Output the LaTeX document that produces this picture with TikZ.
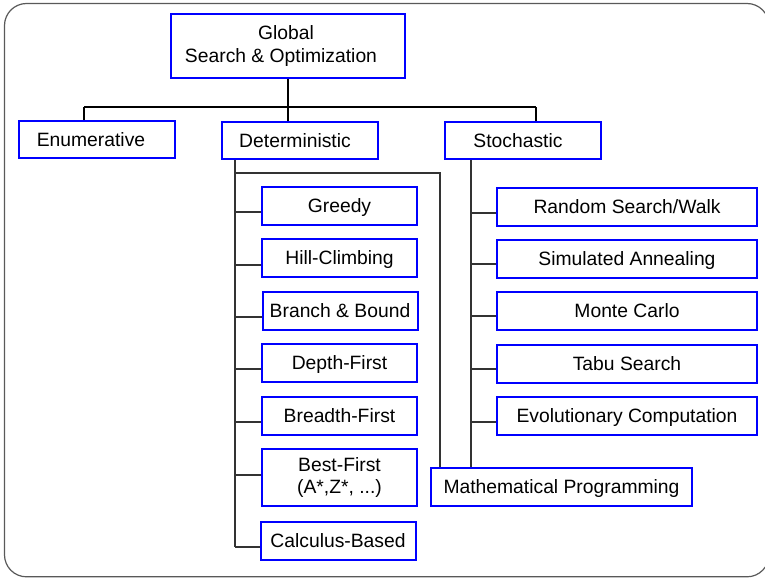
\documentclass[tikz,border=0pt]{standalone}
\usepackage{fontspec}
\setmainfont{Liberation Sans}
\begin{document}
\begin{tikzpicture}[x=1pt,y=-1pt,
  font=\fontsize{19.3}{23}\selectfont,
  box/.style={draw=blue, line width=2pt, inner sep=0pt, align=center, fill=white},
  oneline/.style={text height=17pt, text depth=3.2pt},
  topbox/.style={box, oneline, minimum width=156pt, minimum height=37pt},
  detbox/.style={box, oneline, minimum width=155pt, minimum height=38pt},
  stobox/.style={box, oneline, minimum width=260pt, minimum height=38pt},
  bus/.style={line width=2pt, black},
  link/.style={line width=1.1pt, black!80},
  frame/.style={line width=1.2pt, black!65, rounded corners=22pt}]
\useasboundingbox (0,0) rectangle (765,578);
\draw[frame] (4.5,3.5) rectangle (769,576.8);

% root and first level
\node[box, minimum width=234pt, minimum height=64pt] (global) at (288,46)
  {Global\hspace*{4pt}\\Search \& Optimization\hspace*{14pt}};
\node[topbox] (enum) at (97,139.5) {Enumerative\hspace*{12pt}};
\node[topbox] (det)  at (300,140.5) {Deterministic\hspace*{10pt}};
\node[topbox] (sto)  at (523,140.5) {Stochastic\hspace*{10pt}};

% deterministic methods
\node[detbox] (greedy)  at (339.5,206)   {Greedy};
\node[detbox] (hill)    at (339.5,258)   {Hill-Climbing};
\node[detbox] (bb)      at (340,311)     {Branch \& Bound};
\node[detbox] (depth)   at (339.5,363)   {Depth-First};
\node[detbox] (breadth) at (339.5,415.5) {Breadth-First};
\node[box, minimum width=155pt, minimum height=57pt, font=\fontsize{19.3}{22}\selectfont] (best) at (339.5,477.5)
  {Best-First\\(A*,Z*, ...)};
\node[detbox] (calc)    at (338,541)     {Calculus-Based};

% stochastic methods
\node[stobox] (random) at (627,206.5) {Random Search/Walk};
\node[stobox] (sim)    at (627,258.5) {Simulated Annealing};
\node[stobox] (monte)  at (627,310.5) {Monte Carlo};
\node[stobox] (tabu)   at (627,363.5) {Tabu Search};
\node[stobox] (evo)    at (627,415.5) {Evolutionary Computation};

\node[box, oneline, minimum width=261pt, minimum height=38pt] (math) at (561.5,487)
  {Mathematical Programming};

% top-level bus
\coordinate (busL) at (84,107);
\coordinate (busR) at (536,107);
\draw[bus] (global.south) -- (global.south |- busL);
\draw[bus] (busL) -- (busR);
\draw[bus] (busL) -- (busL |- enum.north);
\draw[bus] (global.south |- busL) -- (global.south |- det.north);
\draw[bus] (busR) -- (busR |- sto.north);

% deterministic trunk and branches
\coordinate (dtr) at (235,547);
\draw[link] (dtr |- det.south) -- (dtr);
\foreach \n/\o in {greedy/6, hill/7, bb/6, depth/6, breadth/6.5, calc/6, best/-2.5}
  \draw[link] ([yshift=-\o pt]\n.west) -- ([yshift=-\o pt]\n.west -| dtr);

% deterministic link to mathematical programming
\coordinate (mpL) at (440,173);
\draw[link] (dtr |- mpL) -- (mpL) -- (mpL |- math.north);

% stochastic trunk and branches
\coordinate (str) at (471,0);
\draw[link] (str |- sto.south) -- (str |- math.north);
\foreach \n/\o in {random/6.5, sim/5.5, monte/5.5, tabu/5.5, evo/6.5}
  \draw[link] ([yshift=-\o pt]\n.west) -- ([yshift=-\o pt]\n.west -| str);
\end{tikzpicture}
\end{document}
